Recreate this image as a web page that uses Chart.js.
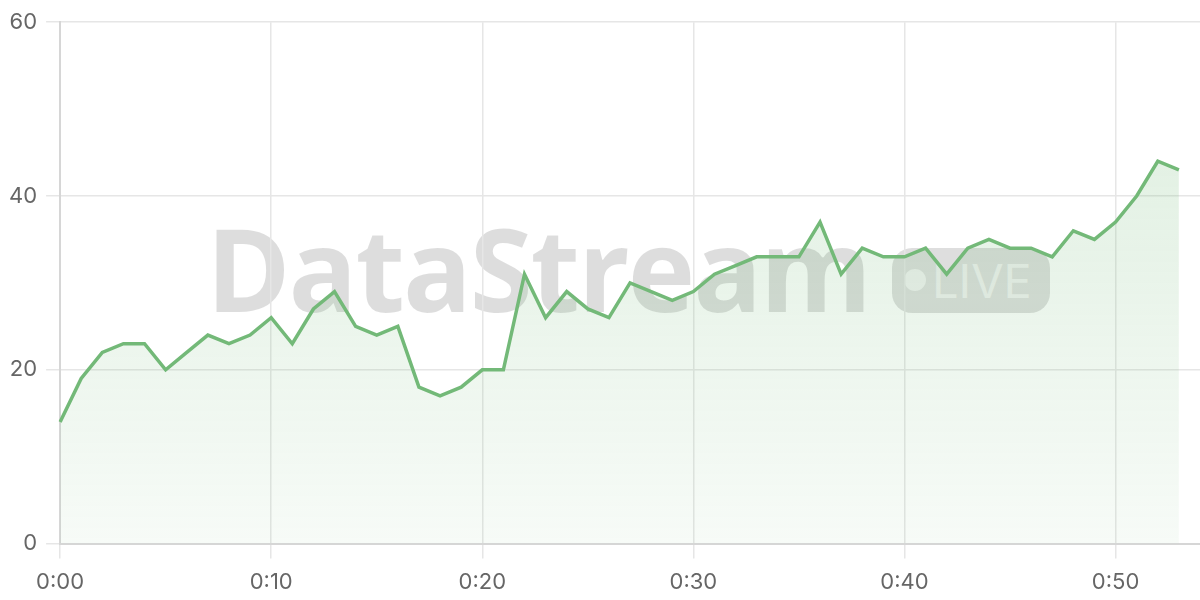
<!DOCTYPE html>
<html>
<head>
<meta charset="utf-8">
<script src="https://cdn.jsdelivr.net/npm/chart.js@4/dist/chart.umd.min.js"></script>
<style>
  html, body { margin: 0; padding: 0; background: #fff; }
  #wrap { position: relative; width: 1200px; height: 600px; }
  #chart { position: relative; z-index: 1; }
  #mark {
    position: absolute; left: 28px; top: 0; width: 1200px; height: 600px;
    display: flex; align-items: center; justify-content: center;
    z-index: 0; pointer-events: none;
  }
  #mark .name {
    font-family: "Open Sans", Inter, sans-serif; font-weight: 700;
    font-size: 114px; letter-spacing: -2px; color: rgba(0,0,0,0.135);
    margin-top: -66px;
  }
  #mark .pill {
    display: flex; align-items: center; margin-left: 22px; margin-top: -40px;
    height: 65px; padding: 0 18px 0 12px; border-radius: 20px;
    background: rgba(0,0,0,0.13);
    font-family: Inter, "Open Sans", sans-serif; font-size: 47px;
    color: rgba(255,255,255,0.6);
  }
  #mark .dot {
    width: 22px; height: 22px; border-radius: 50%;
    background: rgba(255,255,255,0.6); margin-right: 6px;
  }
</style>
</head>
<body>
<div id="wrap">
  <div id="mark"><span class="name">DataStream</span><span class="pill"><span class="dot"></span>LIVE</span></div>
  <canvas id="chart" width="1200" height="600"></canvas>
</div>
<script>
// minutes since start, one reading per minute
const minutes = [];
for (let m = 0; m <= 54; m++) minutes.push('0:' + String(m).padStart(2, '0'));

const values = [14, 19, 22, 23, 23, 20, 22, 24, 23, 24,
                26, 23, 27, 29, 25, 24, 25, 18, 17, 18,
                20, 20, 31, 26, 29, 27, 26, 30, 29, 28,
                29, 31, 32, 33, 33, 33, 37, 31, 34, 33,
                33, 34, 31, 34, 35, 34, 34, 33, 36, 35,
                37, 40, 44, 43];

const yTicks = [0, 20, 40, 60];

const ctx = document.getElementById('chart').getContext('2d');
const chart = new Chart(ctx, {
    type: 'line',
    data: {
        labels: minutes,
        datasets: [{
            data: values,
            borderColor: 'rgb(115,185,120)',
            borderWidth: 3.5,
            pointRadius: 0,
            tension: 0,
            fill: 'origin',
            backgroundColor: function(context) {
                const area = context.chart.chartArea;
                if (!area) return 'rgba(115,185,120,0.15)';
                const g = context.chart.ctx.createLinearGradient(0, area.top, 0, area.bottom);
                g.addColorStop(0, 'rgba(115,185,120,0.25)');
                g.addColorStop(1, 'rgba(115,185,120,0.06)');
                return g;
            }
        }]
    },
    options: {
        responsive: false,
        animation: false,
        layout: { padding: { top: 15, right: 0, left: 0, bottom: -7 } },
        plugins: { legend: { display: false }, tooltip: { enabled: false } },
        scales: {
            x: {
                offset: false,
                grid: { color: '#e6e6e6', tickLength: 15, lineWidth: 1.5 },
                border: { color: '#d6d6d6', width: 2 },
                ticks: {
                    autoSkip: false, maxRotation: 0, padding: 11,
                    color: '#666', font: { family: 'Inter', size: 22 },
                    callback: function(v, i) { return i % 10 === 0 ? minutes[i] : null; }
                }
            },
            y: {
                min: 0, max: 60,
                afterBuildTicks: function(axis) { axis.ticks = yTicks.map(v => ({ value: v })); },
                grid: { color: '#e6e6e6', tickLength: 14, lineWidth: 1.5 },
                border: { color: '#d6d6d6', width: 2 },
                ticks: { padding: 9, color: '#666', font: { family: 'Inter', size: 22 } }
            }
        }
    }
});
</script>
</body>
</html>
